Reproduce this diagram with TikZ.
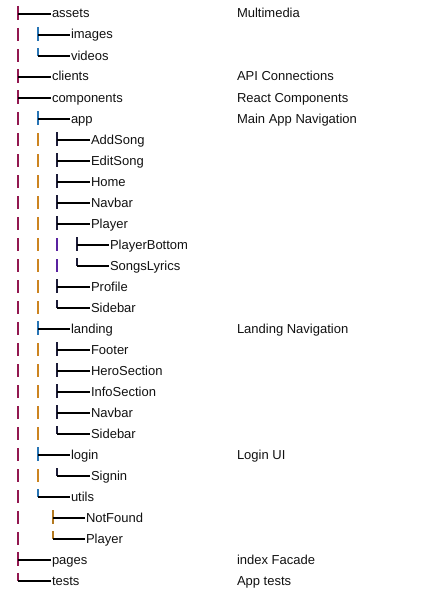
\documentclass[tikz,border=0pt]{standalone}
\usepackage{fontspec}
\setmainfont{Liberation Sans}
\usetikzlibrary{calc}
\definecolor{maroonc}{HTML}{921850}
\definecolor{orangec}{HTML}{CC8420}
\definecolor{bluec}{HTML}{2874B4}
\definecolor{purplec}{HTML}{5A22A0}
\definecolor{darkc}{HTML}{1C1C38}
\definecolor{brownc}{HTML}{B47A20}
\definecolor{textc}{HTML}{111111}
\tikzset{
  lbl/.style={anchor=base west,inner sep=0pt,outer sep=0pt,text=textc,font=\fontsize{13}{15}\selectfont},
  vline/.style={line width=2pt},
  hl/.style={line width=1.6pt,black,shorten >=1pt},
}
% #1 row, #2 tee x, #3 text x, #4 name, #5 label, #6 bottom offset (6 = tee, 0 = corner), #7 colour
\newcommand\treebranch[7]{%
  \node[lbl] (#4) at (#3,{18+21*#1}) {#5};
  \coordinate (#4-j) at (#2,{14+21*#1});
  \draw[vline,#7] ($(#4-j)+(0,-8)$) -- ($(#4-j)+(0,#6)$);
  \draw[hl] (#4-j) -- (#4.west |- #4-j);
}
\newcommand\treebar[3]{%
  \draw[vline,#3] (#1,{14+21*#2-7}) -- (#1,{14+21*#2+6});
}
\newcommand\treedesc[3]{%
  \node[lbl] (#1) at (237,{18+21*#2}) {#3};
}
\begin{document}
\begin{tikzpicture}[x=1pt,y=-1pt]
\useasboundingbox (0,0) rectangle (424,602);
% level 0
\treebranch{0}{18}{52}{r0}{assets}{6}{maroonc}
\treebar{18}{1}{maroonc}
\treebranch{1}{38}{71}{r1}{images}{6}{bluec}
\treebar{18}{2}{maroonc}
\treebranch{2}{38}{71}{r2}{videos}{0}{bluec}
\treebranch{3}{18}{52}{r3}{clients}{6}{maroonc}
\treebranch{4}{18}{52}{r4}{components}{6}{maroonc}
% app
\treebar{18}{5}{maroonc}
\treebranch{5}{38}{71}{r5}{app}{6}{bluec}
\foreach \i in {6,...,14} {\treebar{18}{\i}{maroonc}\treebar{38}{\i}{orangec}}
\treebranch{6}{57}{91}{r6}{AddSong}{6}{darkc}
\treebranch{7}{57}{91}{r7}{EditSong}{6}{darkc}
\treebranch{8}{57}{91}{r8}{Home}{6}{darkc}
\treebranch{9}{57}{91}{r9}{Navbar}{6}{darkc}
\treebranch{10}{57}{91}{r10}{Player}{6}{darkc}
\treebar{57}{11}{purplec}
\treebar{57}{12}{purplec}
\treebranch{11}{77}{110}{r11}{PlayerBottom}{6}{darkc}
\treebranch{12}{77}{110}{r12}{SongsLyrics}{0}{darkc}
\treebranch{13}{57}{91}{r13}{Profile}{6}{darkc}
\treebranch{14}{57}{91}{r14}{Sidebar}{0}{darkc}
% landing
\treebar{18}{15}{maroonc}
\treebranch{15}{38}{71}{r15}{landing}{6}{bluec}
\foreach \i in {16,...,20} {\treebar{18}{\i}{maroonc}\treebar{38}{\i}{orangec}}
\treebranch{16}{57}{91}{r16}{Footer}{6}{darkc}
\treebranch{17}{57}{91}{r17}{HeroSection}{6}{darkc}
\treebranch{18}{57}{91}{r18}{InfoSection}{6}{darkc}
\treebranch{19}{57}{91}{r19}{Navbar}{6}{darkc}
\treebranch{20}{57}{91}{r20}{Sidebar}{0}{darkc}
% login
\treebar{18}{21}{maroonc}
\treebranch{21}{38}{71}{r21}{login}{6}{bluec}
\treebar{18}{22}{maroonc}
\treebar{38}{22}{orangec}
\treebranch{22}{57}{91}{r22}{Signin}{0}{darkc}
% utils
\treebar{18}{23}{maroonc}
\treebranch{23}{38}{71}{r23}{utils}{0}{bluec}
\treebar{18}{24}{maroonc}
\treebar{18}{25}{maroonc}
\treebranch{24}{53}{86}{r24}{NotFound}{6}{brownc}
\treebranch{25}{53}{86}{r25}{Player}{0}{brownc}
% pages, tests
\treebranch{26}{18}{52}{r26}{pages}{6}{maroonc}
\treebranch{27}{18}{52}{r27}{tests}{0}{maroonc}
% descriptions
\treedesc{d0}{0}{Multimedia}
\treedesc{d3}{3}{API Connections}
\treedesc{d4}{4}{React Components}
\treedesc{d5}{5}{Main App Navigation}
\treedesc{d15}{15}{Landing Navigation}
\treedesc{d21}{21}{Login UI}
\treedesc{d26}{26}{index Facade}
\treedesc{d27}{27}{App tests}
\end{tikzpicture}
\end{document}
